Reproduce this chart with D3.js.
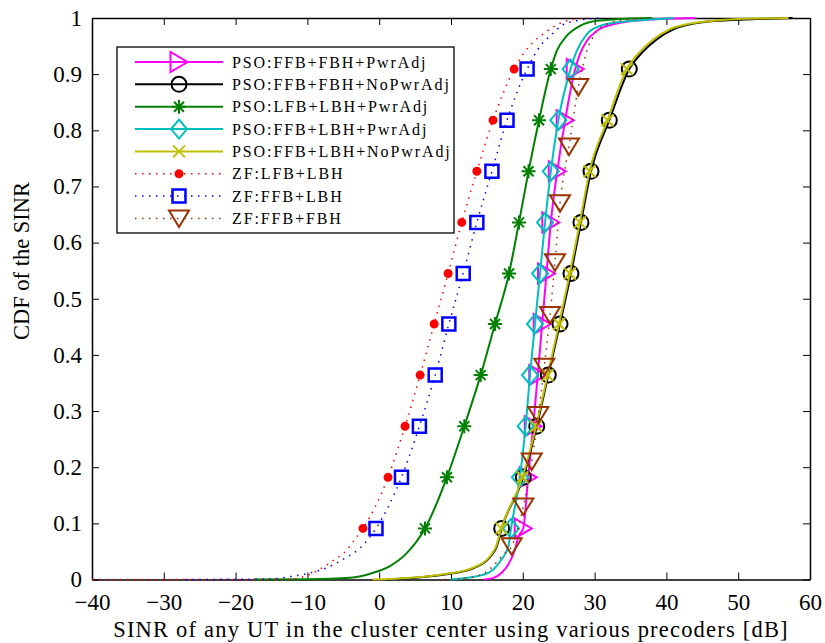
<!DOCTYPE html>
<html lang="en">
<head>
  <meta charset="UTF-8">
  <title>CDF of the SINR</title>
  <script src="https://d3js.org/d3.v7.min.js"></script>
  <style>
    html, body {
      margin: 0;
      padding: 0;
      background: #fff;
    }
    svg {
      display: block;
    }
    .axis path, .axis line {
      stroke: #000;
    }
    .axis .domain {
      stroke-width: 1.5px;
    }
    .axis text {
      font: 23px "Liberation Serif", serif;
      fill: #000;
    }
    .label {
      font: 22.5px "Liberation Serif", serif;
      fill: #000;
    }
    .legend text {
      font: 16px "Liberation Serif", serif;
      letter-spacing: 1.9px;
      fill: #000;
    }
  </style>
</head>
<body>
  <svg id="chart" width="825" height="643"></svg>
  <script>
    // Axis ticks
    const xTicks = [-40, -30, -20, -10, 0, 10, 20, 30, 40, 50, 60];
    const yTicks = [0, 0.1, 0.2, 0.3, 0.4, 0.5, 0.6, 0.7, 0.8, 0.9, 1];

    // CDF levels that carry a marker
    const markLevels = [0.091, 0.182, 0.273, 0.364, 0.455, 0.545, 0.636, 0.727, 0.818, 0.909];
    const zfFfbFbhMarkLevels = [0.059, 0.130, 0.210, 0.293, 0.379, 0.471, 0.565, 0.670, 0.771, 0.877];

    const seriesNames = [
      "PSO:FFB+FBH+PwrAdj",
      "PSO:FFB+FBH+NoPwrAdj",
      "PSO:LFB+LBH+PwrAdj",
      "PSO:FFB+LBH+PwrAdj",
      "PSO:FFB+LBH+NoPwrAdj",
      "ZF:LFB+LBH",
      "ZF:FFB+LBH",
      "ZF:FFB+FBH"
    ];

    // [SINR dB, CDF]
    const psoFfbFbhPwrAdj = [
      [14.6, 0], [15.9, 0.003], [17.06, 0.012], [18.0, 0.027], [18.9, 0.053], [19.4, 0.077],
      [20.06, 0.091], [20.75, 0.182], [21.45, 0.273], [22.08, 0.364], [22.7, 0.455],
      [23.3, 0.545], [23.9, 0.636], [24.8, 0.727], [25.9, 0.818], [27.3, 0.909],
      [27.97, 0.936], [28.9, 0.959], [30.3, 0.977], [32.6, 0.989], [35.4, 0.995], [39, 0.998], [44, 1]
    ];
    const psoFfbFbhNoPwrAdj = [
      [1, 0], [6.5, 0.005], [10.2, 0.011], [13.3, 0.021], [15.5, 0.041], [16.4, 0.06],
      [17.06, 0.091], [20.07, 0.182], [21.94, 0.273], [23.55, 0.364], [25.18, 0.455],
      [26.71, 0.545], [28.1, 0.636], [29.5, 0.727], [32.05, 0.818], [34.83, 0.909],
      [36.8, 0.941], [38.65, 0.962], [40.96, 0.98], [43.75, 0.99], [47.0, 0.995], [50.25, 0.997], [57.6, 1]
    ];
    const psoLfbLbhPwrAdj = [
      [-17.5, 0], [-10, 0.0005], [-4.07, 0.003], [-0.82, 0.012], [1.5, 0.024], [3.83, 0.047],
      [6.38, 0.091], [9.43, 0.182], [11.85, 0.273], [14.13, 0.364], [16.13, 0.455],
      [18.08, 0.545], [19.47, 0.636], [20.8, 0.727], [22.26, 0.818], [23.9, 0.909],
      [24.72, 0.941], [26.1, 0.968], [27.97, 0.986], [30.3, 0.995], [33.5, 0.998], [38, 1]
    ];
    const psoFfbLbhPwrAdj = [
      [9.86, 0], [14.04, 0.007], [15.9, 0.018], [17.06, 0.036], [18.0, 0.059],
      [18.36, 0.091], [19.6, 0.182], [20.4, 0.273], [21.0, 0.364], [21.7, 0.455],
      [22.4, 0.545], [23.1, 0.636], [23.9, 0.727], [24.95, 0.818], [26.65, 0.909],
      [27.5, 0.941], [28.9, 0.971], [30.75, 0.986], [33.5, 0.993], [36.3, 0.996], [41, 1]
    ];
    const psoFfbLbhNoPwrAdj = [
      [-0.9, 0], [6.14, 0.005], [9.86, 0.011], [13.1, 0.021], [15.4, 0.041], [16.3, 0.06],
      [17.0, 0.091], [19.95, 0.182], [21.85, 0.273], [23.45, 0.364], [25.05, 0.455],
      [26.55, 0.545], [27.95, 0.636], [29.3, 0.727], [31.8, 0.818], [34.5, 0.909],
      [36.4, 0.941], [38.2, 0.962], [40.5, 0.98], [43.3, 0.99], [46.5, 0.995], [50, 0.998], [57, 1]
    ];
    const zfLfbLbh = [
      [-40, 0], [-13, 0], [-8.7, 0.015], [-7.55, 0.024], [-6.15, 0.036], [-5.0, 0.046], [-3.4, 0.071],
      [-2.26, 0.091], [1.23, 0.182], [3.6, 0.273], [5.7, 0.364], [7.66, 0.455],
      [9.6, 0.545], [11.5, 0.636], [13.6, 0.727], [15.85, 0.818], [18.8, 0.909],
      [20.07, 0.936], [21.7, 0.96], [23.1, 0.974], [24.5, 0.986], [26.1, 0.995], [29, 1]
    ];
    const zfFfbLbh = [
      [-27, 0], [-15, 0.001], [-12.0, 0.006], [-7.3, 0.021], [-4.76, 0.038], [-2.67, 0.056],
      [-0.45, 0.091], [3.1, 0.182], [5.6, 0.273], [7.8, 0.364], [9.7, 0.455],
      [11.7, 0.545], [13.6, 0.636], [15.7, 0.727], [17.8, 0.818], [20.6, 0.909],
      [22.6, 0.953], [23.8, 0.968], [25.6, 0.988], [27.5, 0.995], [31, 1]
    ];
    const zfFfbFbh = [
      [9, 0], [13, 0.004], [15.8, 0.023], [17.3, 0.045],
      [18.45, 0.059], [20.07, 0.130], [21.24, 0.210], [22.16, 0.293], [22.99, 0.379],
      [23.79, 0.471], [24.48, 0.565], [25.18, 0.670], [26.43, 0.771], [27.73, 0.877],
      [28.43, 0.917], [28.9, 0.941], [29.6, 0.962], [30.3, 0.977], [31.7, 0.989], [34.0, 0.996], [38, 1]
    ];

    const seriesData = [psoFfbFbhPwrAdj, psoFfbFbhNoPwrAdj, psoLfbLbhPwrAdj, psoFfbLbhPwrAdj,
      psoFfbLbhNoPwrAdj, zfLfbLbh, zfFfbLbh, zfFfbFbh];
    const seriesMarkLevels = [markLevels, markLevels, markLevels, markLevels,
      markLevels, markLevels, markLevels, zfFfbFbhMarkLevels];

    // Styles (matlab-like)
    const styles = [
      { color: "#ff00ff", dash: null, marker: "triRight" },
      { color: "#000000", dash: null, marker: "circle" },
      { color: "#008000", dash: null, marker: "asterisk" },
      { color: "#00bfbf", dash: null, marker: "diamond" },
      { color: "#bfbf00", dash: null, marker: "times" },
      { color: "#ff0000", dash: "1.5,5.5", marker: "dot" },
      { color: "#0000ff", dash: "1.5,5.5", marker: "square" },
      { color: "#993300", dash: "1.5,5.5", marker: "triDown" }
    ];

    const markerPaths = {
      triRight: "M-8.5,-10L-8.5,10L8.5,0Z",
      circle: "M7.5,0A7.5,7.5 0 1,1 -7.5,0A7.5,7.5 0 1,1 7.5,0Z",
      asterisk: "M0,-7V7M-7,0H7M-5,-5L5,5M-5,5L5,-5",
      diamond: "M0,-9.5L8,0L0,9.5L-8,0Z",
      times: "M-6,-6L6,6M-6,6L6,-6",
      dot: "M3.5,0A3.5,3.5 0 1,1 -3.5,0A3.5,3.5 0 1,1 3.5,0Z",
      square: "M-6.5,-6.5H6.5V6.5H-6.5Z",
      triDown: "M-10,-8H10L0,8.5Z"
    };

    function drawMarker(sel, style) {
      sel.append("path")
        .attr("d", markerPaths[style.marker])
        .attr("fill", style.marker === "dot" ? style.color : "none")
        .attr("stroke", style.color)
        .attr("stroke-width", style.marker === "square" ? 2.5 : 2)
        .attr("stroke-linejoin", "miter");
    }

    const svg = d3.select("#chart");
    const margin = { top: 18, left: 92 };
    const width = 718, height = 561.5;

    const x = d3.scaleLinear().domain([-40, 60]).range([0, width]);
    const y = d3.scaleLinear().domain([0, 1]).range([height, 0]);

    const g = svg.append("g").attr("transform", `translate(${margin.left},${margin.top})`);

    // Axes with inward ticks on all four sides
    g.append("g").attr("class", "axis")
      .attr("transform", `translate(0,${height})`)
      .call(d3.axisBottom(x).tickValues(xTicks).tickSizeInner(-7).tickSizeOuter(0).tickPadding(14).tickFormat(d3.format("d")));
    g.append("g").attr("class", "axis")
      .call(d3.axisTop(x).tickValues(xTicks).tickSizeInner(-7).tickSizeOuter(0).tickFormat(""));
    g.append("g").attr("class", "axis")
      .call(d3.axisLeft(y).tickValues(yTicks).tickSizeInner(-7).tickSizeOuter(0).tickPadding(10).tickFormat(d3.format("~g")));
    g.append("g").attr("class", "axis")
      .attr("transform", `translate(${width},0)`)
      .call(d3.axisRight(y).tickValues(yTicks).tickSizeInner(-7).tickSizeOuter(0).tickFormat(""));

    // Curves
    const line = d3.line()
      .x(d => x(d[0]))
      .y(d => y(d[1]))
      .curve(d3.curveMonotoneX);

    seriesData.forEach((pts, i) => {
      const st = styles[i];
      const sg = g.append("g");
      sg.append("path")
        .attr("d", line(pts))
        .attr("fill", "none")
        .attr("stroke", st.color)
        .attr("stroke-width", st.dash ? 1.5 : 2)
        .attr("stroke-dasharray", st.dash);
      const marks = pts.filter(p => seriesMarkLevels[i].includes(p[1]));
      sg.selectAll(".mk")
        .data(marks)
        .enter().append("g")
        .attr("class", "mk")
        .attr("transform", d => `translate(${x(d[0])},${y(d[1])})`)
        .each(function() { drawMarker(d3.select(this), st); });
    });

    // Legend
    const legend = svg.append("g").attr("class", "legend").attr("transform", "translate(117,47)");
    legend.append("rect")
      .attr("width", 337)
      .attr("height", 186)
      .attr("fill", "#fff")
      .attr("stroke", "#000")
      .attr("stroke-width", 1.3);
    seriesNames.forEach((name, i) => {
      const st = styles[i];
      const row = legend.append("g").attr("transform", `translate(0,${15 + i * 22.35})`);
      row.append("line")
        .attr("x1", 18).attr("x2", 106)
        .attr("stroke", st.color)
        .attr("stroke-width", st.dash ? 1.5 : 2)
        .attr("stroke-dasharray", st.dash);
      const m = row.append("g").attr("transform", "translate(62,0)");
      drawMarker(m, st);
      row.append("text")
        .attr("x", 115)
        .attr("dy", "0.35em")
        .text(name);
    });

    // Axis titles
    svg.append("text")
      .attr("class", "label")
      .attr("x", 451)
      .attr("y", 637)
      .attr("text-anchor", "middle")
      .style("letter-spacing", "1.2px")
      .text("SINR of any UT in the cluster center using various precoders [dB]");
    svg.append("text")
      .attr("class", "label")
      .attr("transform", "translate(29,261) rotate(-90)")
      .attr("text-anchor", "middle")
      .text("CDF of the SINR");
  </script>
</body>
</html>
